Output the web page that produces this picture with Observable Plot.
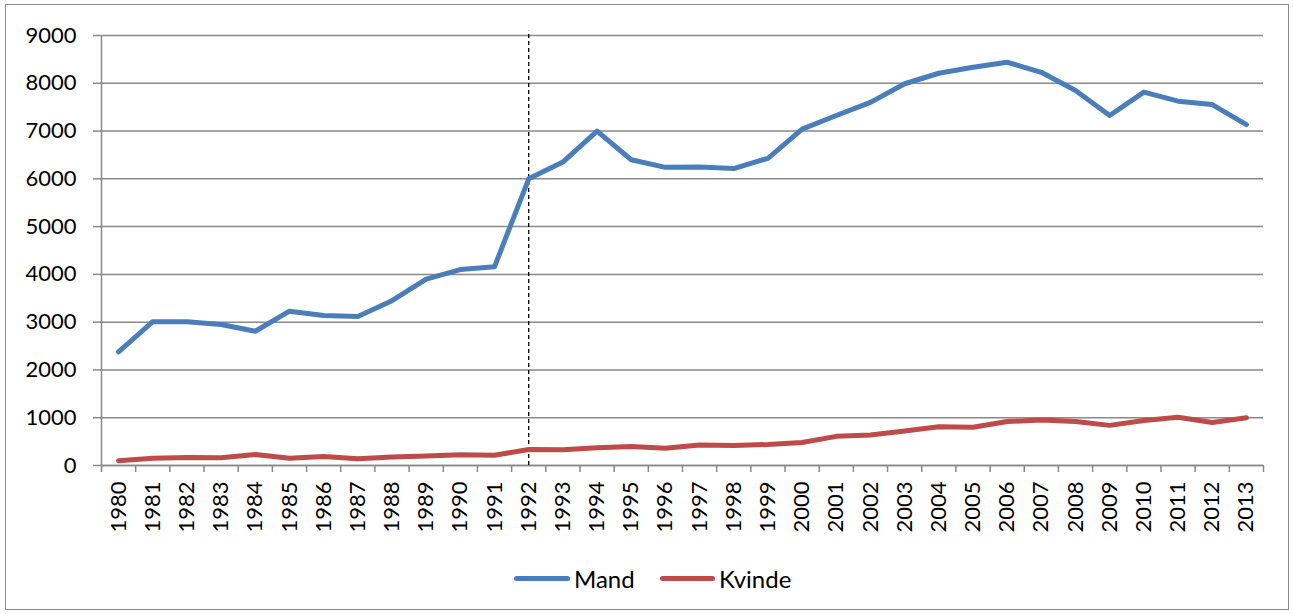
<!DOCTYPE html>
<html>
<head>
<meta charset="utf-8">
<script src="https://cdn.jsdelivr.net/npm/d3@7"></script>
<script src="https://cdn.jsdelivr.net/npm/@observablehq/plot@0.6"></script>
<style>
  html, body { margin: 0; padding: 0; background: #fff; }
  #wrap { position: relative; width: 1293px; height: 614px; overflow: hidden; font-family: Lato, "Open Sans", sans-serif; }
  #frame { position: absolute; left: 5px; top: 4px; width: 1284px; height: 606px; border: 1px solid #8a8a8a; box-sizing: border-box; }
  #chart { position: absolute; left: 0; top: 0; }
  #legend { position: absolute; top: 564px; left: 0; width: 1293px; height: 28px; font-size: 24px; color: #000; }
  .item { position: absolute; top: 0; display: flex; align-items: center; height: 28px; }
  .sw { height: 5px; border-radius: 3px; margin-right: 4px; }
</style>
</head>
<body>
<div id="wrap">
  <div id="frame"></div>
  <div id="chart"></div>
  <div id="legend"></div>
</div>
<script>
const years = ["1980","1981","1982","1983","1984","1985","1986","1987","1988","1989","1990","1991","1992","1993","1994","1995","1996","1997","1998","1999","2000","2001","2002","2003","2004","2005","2006","2007","2008","2009","2010","2011","2012","2013"];
const mand = [2380,3010,3010,2950,2810,3230,3140,3120,3450,3900,4100,4160,6000,6350,7000,6400,6240,6250,6215,6430,7040,7325,7600,7990,8210,8335,8440,8230,7850,7325,7815,7625,7555,7135];
const kvinde = [100,150,165,160,230,150,190,140,180,200,225,215,335,330,370,400,360,430,420,440,480,610,640,720,810,800,920,950,920,840,940,1010,900,1000];
const seriesNames = ["Mand","Kvinde"];
const seriesColors = ["#4a7ebb","#be4b48"];
const yTicks = [0,1000,2000,3000,4000,5000,6000,7000,8000,9000];
const markerYear = "1992";

const rows = [];
years.forEach((y, i) => {
  rows.push({i, year: y, value: mand[i], series: seriesNames[0]});
  rows.push({i, year: y, value: kvinde[i], series: seriesNames[1]});
});
const idx = years.map((_, i) => i);
const bounds = [...idx.map(i => i - 0.5), years.length - 0.5];
const gridColor = "#898989";

const plot = Plot.plot({
  width: 1293,
  height: 545,
  marginLeft: 101,
  marginRight: 30,
  marginTop: 35,
  marginBottom: 80,
  style: {fontFamily: "Lato, 'Open Sans', sans-serif", fontSize: "22px", color: "#000", background: "transparent", overflow: "visible"},
  x: {type: "linear", domain: [-0.5, years.length - 0.5]},
  y: {domain: [0, 9000]},
  color: {domain: seriesNames, range: seriesColors},
  marks: [
    Plot.gridY(yTicks, {stroke: gridColor, strokeOpacity: 1, strokeWidth: 1.5}),
    Plot.axisY(yTicks, {tickSize: 8, tickPadding: 17, stroke: gridColor, strokeWidth: 1.5, label: null, tickFormat: d => String(d), fill: "#000", fontSize: 22}),
    Plot.ruleX([-0.5], {y1: 0, y2: 9000, stroke: gridColor, strokeWidth: 1.5}),
    Plot.axisX(bounds, {tickSize: 7, tickFormat: () => "", stroke: gridColor, strokeWidth: 1.5, label: null}),
    Plot.axisX(idx, {tickSize: 0, tickPadding: 16, tickRotate: -90, tickFormat: i => years[i], label: null, fill: "#000", fontSize: 22}),
    Plot.ruleY([0], {stroke: gridColor, strokeWidth: 1.5}),
    Plot.ruleX([years.indexOf(markerYear)], {y1: 0, y2: 9090, stroke: "#000", strokeWidth: 1.3, strokeDasharray: "4,3"}),
    Plot.line(rows, {x: "i", y: "value", z: "series", stroke: "series", strokeWidth: 5, strokeLinejoin: "round", strokeLinecap: "round"})
  ]
});
document.getElementById("chart").appendChild(plot);

const legend = document.getElementById("legend");
const legendLeft = [514, 660];
const swatchWidth = [56, 55];
seriesNames.forEach((n, k) => {
  const it = document.createElement("div");
  it.className = "item";
  it.style.left = legendLeft[k] + "px";
  const sw = document.createElement("div");
  sw.className = "sw";
  sw.style.width = swatchWidth[k] + "px";
  sw.style.background = seriesColors[k];
  const t = document.createElement("span");
  t.textContent = n;
  it.appendChild(sw);
  it.appendChild(t);
  legend.appendChild(it);
});
</script>
</body>
</html>
